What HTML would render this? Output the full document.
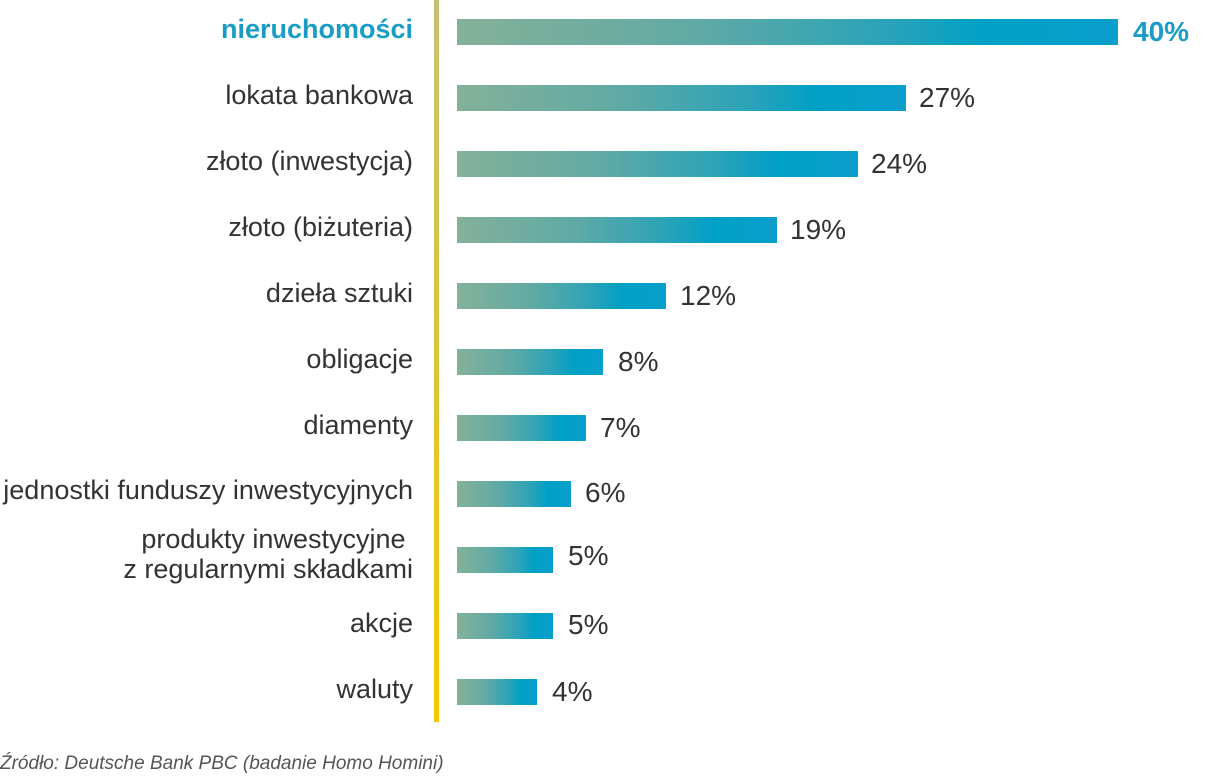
<!DOCTYPE html>
<html><head><meta charset="utf-8"><style>
body{margin:0;width:1220px;height:780px;background:#fff;position:relative;overflow:hidden;font-family:"Liberation Sans",sans-serif;color:#333}
.axis{position:absolute;left:434px;top:0;width:5px;height:722px;background:linear-gradient(#c4c172,#f6c800)}
.bar{position:absolute;left:457px;height:26px;background:linear-gradient(90deg,#84b199 0%,#62aaa4 35%,#2ba3b8 65%,#00a0c6 80%,#0a9ecb 100%)}
.lab{position:absolute;right:807px;font-size:27px;text-align:right;line-height:30px;white-space:nowrap}
.val{position:absolute;font-size:28px;line-height:30px}
.foot{position:absolute;left:0;top:753px;font-size:19px;font-style:italic;color:#555}
</style></head><body>
<div class="axis"></div>
<div class="lab" style="top:14px;color:#1a9cc6;font-weight:bold">nieruchomości</div><div class="bar" style="top:19px;width:661px"></div><div class="val" style="left:1133px;top:17px;color:#1a9cc6;font-weight:bold">40%</div>
<div class="lab" style="top:80px">lokata bankowa</div><div class="bar" style="top:85px;width:449px"></div><div class="val" style="left:919px;top:83px">27%</div>
<div class="lab" style="top:146px">złoto (inwestycja)</div><div class="bar" style="top:151px;width:401px"></div><div class="val" style="left:871px;top:149px">24%</div>
<div class="lab" style="top:212px">złoto (biżuteria)</div><div class="bar" style="top:217px;width:320px"></div><div class="val" style="left:790px;top:215px">19%</div>
<div class="lab" style="top:278px">dzieła sztuki</div><div class="bar" style="top:283px;width:209px"></div><div class="val" style="left:680px;top:281px">12%</div>
<div class="lab" style="top:344px">obligacje</div><div class="bar" style="top:349px;width:146px"></div><div class="val" style="left:618px;top:347px">8%</div>
<div class="lab" style="top:410px">diamenty</div><div class="bar" style="top:415px;width:129px"></div><div class="val" style="left:600px;top:413px">7%</div>
<div class="lab" style="top:475px">jednostki funduszy inwestycyjnych</div><div class="bar" style="top:481px;width:114px"></div><div class="val" style="left:585px;top:478px">6%</div>
<div class="lab" style="top:524px">produkty inwestycyjne&nbsp;<br>z regularnymi składkami</div><div class="bar" style="top:547px;width:96px"></div><div class="val" style="left:568px;top:541px">5%</div>
<div class="lab" style="top:608px">akcje</div><div class="bar" style="top:613px;width:96px"></div><div class="val" style="left:568px;top:610px">5%</div>
<div class="lab" style="top:674px">waluty</div><div class="bar" style="top:679px;width:80px"></div><div class="val" style="left:552px;top:677px">4%</div>
<div class="foot">Źródło: Deutsche Bank PBC (badanie Homo Homini)</div>
</body></html>
